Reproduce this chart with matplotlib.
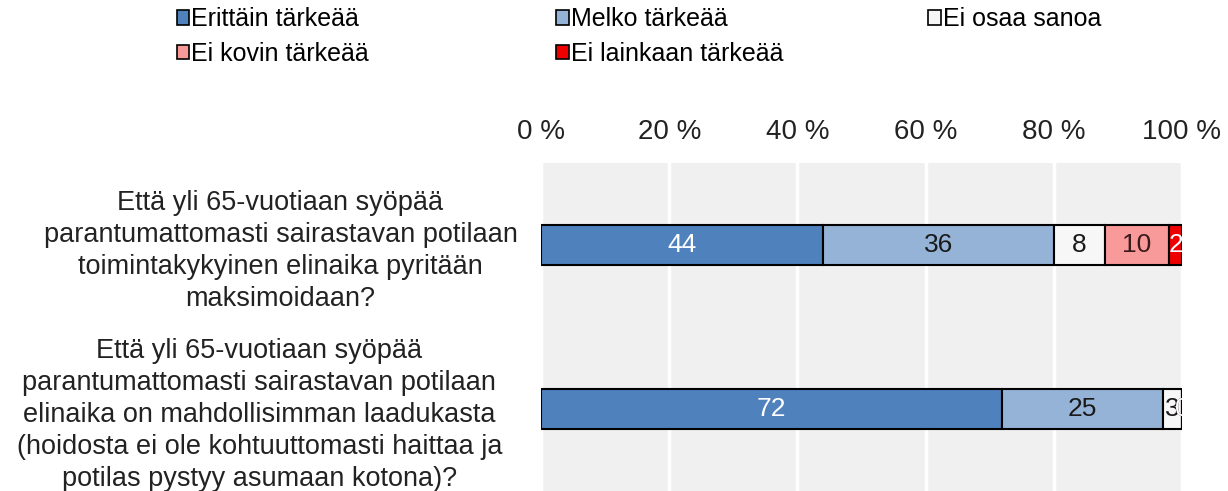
import matplotlib.pyplot as plt
from matplotlib.patches import Patch
import numpy as np

plt.rcParams['font.family'] = ['Liberation Sans', 'DejaVu Sans']

# kysymykset (ylhäältä alas)
kysymykset = [
    "Että yli 65-vuotiaan syöpää\nparantumattomasti sairastavan potilaan\ntoimintakykyinen elinaika pyritään\nmaksimoidaan?",
    "Että yli 65-vuotiaan syöpää\nparantumattomasti sairastavan potilaan\nelinaika on mahdollisimman laadukasta\n(hoidosta ei ole kohtuuttomasti haittaa ja\npotilas pystyy asumaan kotona)?",
]
vastaukset = ["Erittäin tärkeää", "Melko tärkeää", "Ei osaa sanoa",
              "Ei kovin tärkeää", "Ei lainkaan tärkeää"]
erittain = [44, 72]
melko = [36, 25]
ei_osaa = [8, 3]
ei_kovin = [10, 0]
ei_lainkaan = [2, 0]
xticks = [0, 20, 40, 60, 80, 100]

varit = ["#4F81BD", "#95B3D7", "#F7F7F7", "#F99A9A", "#EE0000"]
tekstivarit = ["white", "#1a1a1a", "#1a1a1a", "#3a1a1a", "white"]

sarjat = [erittain, melko, ei_osaa, ei_kovin, ei_lainkaan]

fig = plt.figure(figsize=(12.28, 4.91), dpi=100)
ax = fig.add_axes([0.4406, 0.0, 0.5219, 0.668])
ax.set_facecolor("#F0F0F0")

y = np.arange(len(kysymykset))
vasen = np.zeros(len(kysymykset))
for arvot, vari, tv in zip(sarjat, varit, tekstivarit):
    arvot = np.array(arvot, dtype=float)
    ax.barh(y, arvot, left=vasen, height=0.24, color=vari,
            edgecolor="black", linewidth=1.5, zorder=3)
    for yi, (v, l) in enumerate(zip(arvot, vasen)):
        ax.text(l + v / 2, yi, "%d" % v, ha="center", va="center",
                fontsize=19, color=tv, zorder=4, clip_on=True)
    vasen = vasen + arvot

ax.set_xlim(0, 100)
ax.set_ylim(1.5, -0.5)
ax.set_xticks(xticks)
ax.set_xticklabels(["%d %%" % t for t in xticks], fontsize=20, color="#222222")
ax.xaxis.tick_top()
ax.tick_params(axis="x", length=0, pad=13)
ax.set_yticks(y)
ax.set_yticklabels(kysymykset, fontsize=19.5, color="#222222",
                   multialignment="center", linespacing=1.3)
ax.tick_params(axis="y", length=0, pad=17)
ax.yaxis.get_major_ticks()[1].set_pad(28)
ax.grid(axis="x", color="white", linewidth=2.5, zorder=1)
ax.set_axisbelow(True)
for s in ax.spines.values():
    s.set_visible(False)

kahvat = [Patch(facecolor=c, edgecolor="black", linewidth=1.2) for c in varit]
sarakkeet = [([0, 3], 0.140), ([1, 4], 0.449), ([2], 0.752)]
for idx, x0 in sarakkeet:
    fig.legend([kahvat[i] for i in idx], [vastaukset[i] for i in idx],
               loc="upper left", bbox_to_anchor=(x0, 0.995), frameon=False,
               fontsize=18, handlelength=0.5, handleheight=0.5,
               handletextpad=0.08, labelspacing=0.42, borderpad=0.2,
               borderaxespad=0)

fig.savefig("out.png", dpi=100)
